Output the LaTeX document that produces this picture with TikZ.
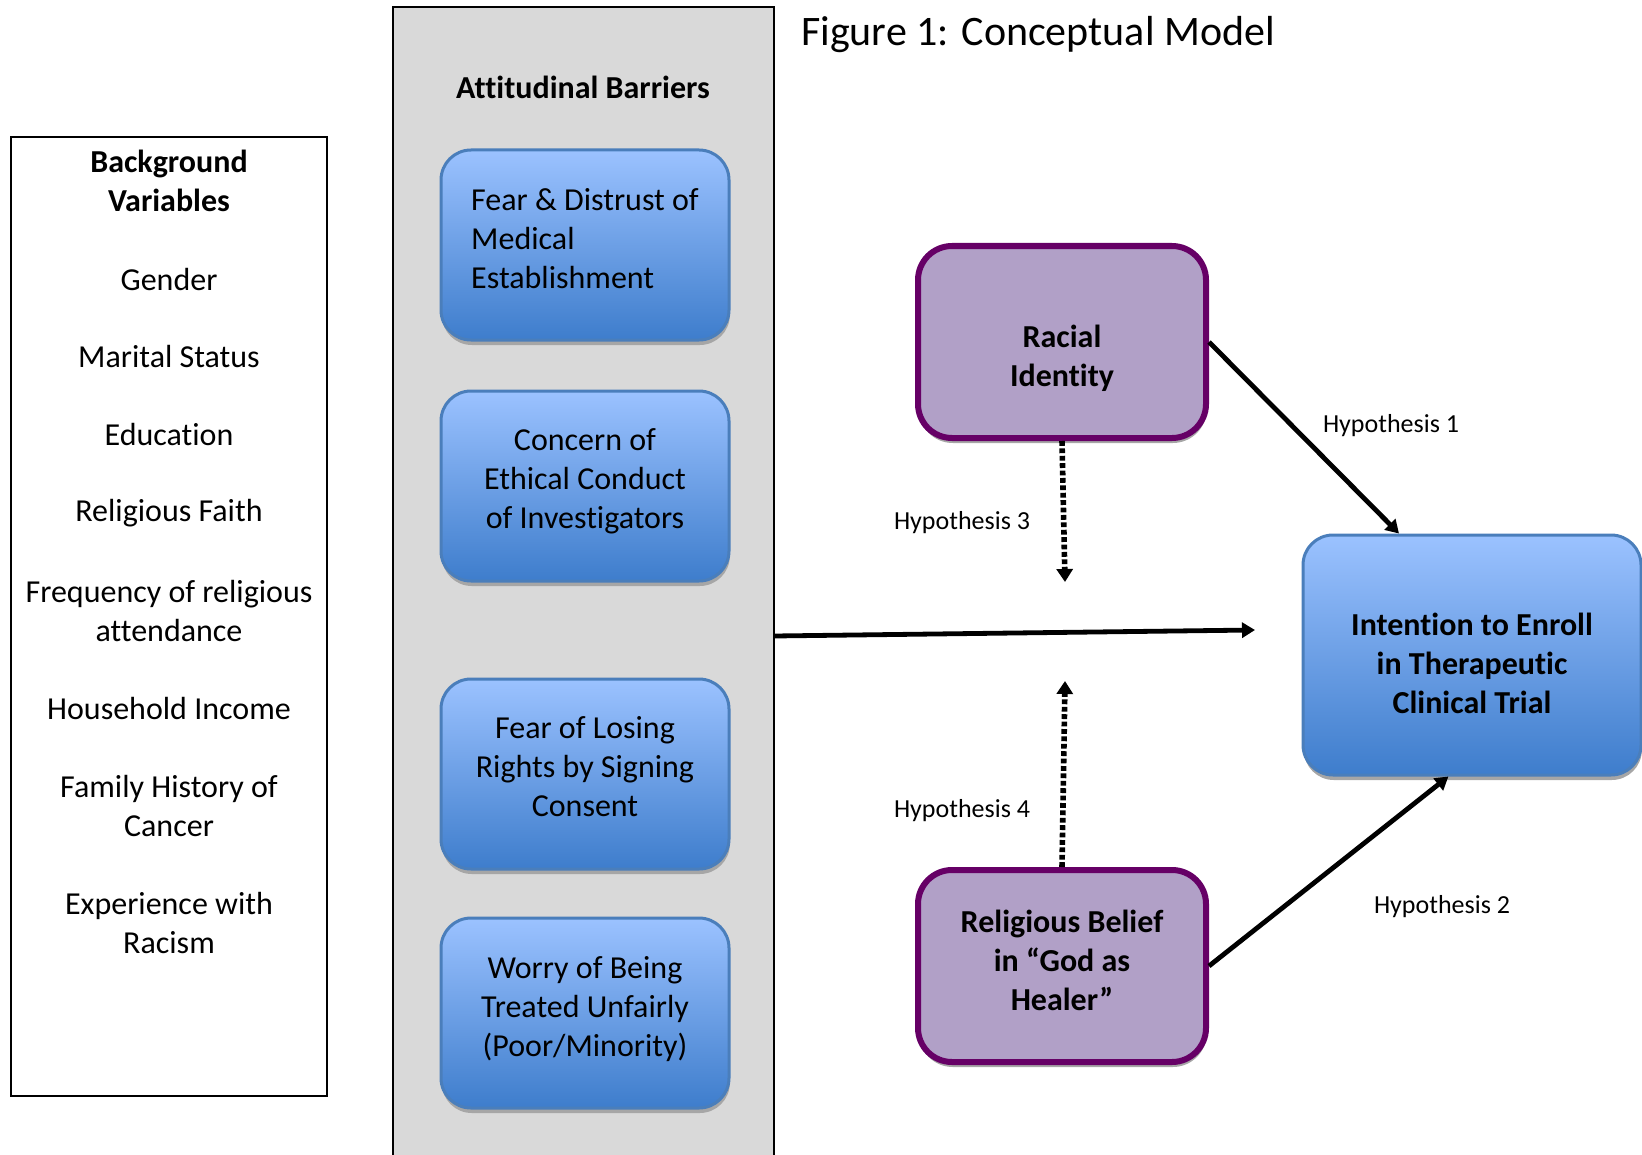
\documentclass[tikz,border=0pt]{standalone}
\usepackage{fontspec}
\setmainfont{Carlito}[Ligatures=CommonOff]
\usetikzlibrary{arrows.meta,shadows}

\definecolor{barrtop}{RGB}{155,194,255}
\definecolor{barrbot}{RGB}{62,125,204}
\definecolor{barredge}{RGB}{74,126,187}
\definecolor{idfill}{RGB}{177,160,199}
\definecolor{idedge}{RGB}{102,0,102}
\definecolor{panelgray}{RGB}{217,217,217}

% move the lines of a box up or down without changing the box
\newcommand{\nudge}[3][c]{\raisebox{#2}[\height][\depth]{\begin{tabular}{@{}#1@{}}#3\end{tabular}}}

\begin{document}
\begin{tikzpicture}[x=0.5pt, y=-0.5pt, font=\fontsize{16}{19.5}\selectfont,
  boxshadow/.style={drop shadow={shadow xshift=0.4pt, shadow yshift=-2.5pt, fill=black!35, opacity=1}},
  barrier/.style={rectangle, rounded corners=15pt, draw=barredge, line width=1.5pt, top color=barrtop, bottom color=barrbot, minimum width=144pt, minimum height=95pt, boxshadow},
  factor/.style={rectangle, rounded corners=17pt, draw=idedge, line width=3pt, fill=idfill, minimum width=144pt, minimum height=96pt, font=\fontsize{16}{19.5}\selectfont\bfseries, boxshadow},
  hyp/.style={font=\fontsize{13}{16}\selectfont},
  solidarrow/.style={line width=2.4pt, -{Triangle[length=6.5pt,width=7.5pt]}},
  dotarrow/.style={line width=2.8pt, dash pattern=on 2.4pt off 1.3pt, -{Triangle[length=6.5pt,width=8pt]}}]
\useasboundingbox (0,0) rectangle (1642,1155);

% title
\node (title) at (1038,35) {\fontsize{21}{25}\selectfont Figure 1: Conceptual Model};

% background variables
\node[draw, line width=1pt, minimum width=158pt, minimum height=479.5pt] (bgbox) at (169,616.5) {};
\node[align=center, font=\fontsize{16}{19.5}\selectfont\bfseries] (bghead) at (169,181) {Background\\Variables};
\node (bg1) at (169,279) {Gender};
\node (bg2) at (169,357) {Marital Status};
\node (bg3) at (169,435) {Education};
\node (bg4) at (169,513) {Religious Faith};
\node[align=center] (bg5) at (169,611) {Frequency of religious\\attendance};
\node (bg6) at (169,708) {Household Income};
\node[align=center] (bg7) at (169,805.5) {Family History of\\Cancer};
\node[align=center] (bg8) at (169,923) {Experience with\\Racism};

% attitudinal barriers
\node[draw, line width=1pt, fill=panelgray, minimum width=190.5pt, minimum height=579pt] (panel) at (583.5,586) {};
\node[font=\fontsize{16}{19.5}\selectfont\bfseries] (panelhead) at (583,87) {Attitudinal Barriers};
\node[barrier] (bar1) at (585,245) {\nudge[l]{1.5pt}{Fear \& Distrust of\\Medical\\Establishment}};
\node[barrier] (bar2) at (585,486) {\nudge{2pt}{Concern of\\Ethical Conduct\\of Investigators}};
\node[barrier] (bar3) at (585,774) {\nudge{2pt}{Fear of Losing\\Rights by Signing\\Consent}};
\node[barrier] (bar4) at (585,1013) {\nudge{1.5pt}{Worry of Being\\Treated Unfairly\\(Poor/Minority)}};

% model
\node[factor] (racial) at (1062,342) {\nudge{-8.5pt}{Racial\\Identity}};
\node[factor] (belief) at (1062,966) {\nudge{1pt}{Religious Belief\\in “God as\\Healer”}};
\node[barrier, minimum width=169pt, minimum height=120pt, font=\fontsize{16}{19.5}\selectfont\bfseries] (enroll) at (1472,655) {\nudge{-6pt}{Intention to Enroll\\in Therapeutic\\Clinical Trial}};

\coordinate (barout) at (774,636);
\coordinate (meet) at (1255,630);
\coordinate (h3end) at (1065,582);
\coordinate (h4end) at (1065,681);

\draw[solidarrow] (barout) -- (meet);
\draw[solidarrow] (racial.east) -- (enroll.121);
\draw[solidarrow] (belief.east) -- (enroll.259);
\draw[dotarrow] (racial.south) -- (h3end);
\draw[dotarrow] (belief.north) -- (h4end);

\node[hyp] (hyp1) at (1391,426) {Hypothesis 1};
\node[hyp] (hyp2) at (1442,907) {Hypothesis 2};
\node[hyp] (hyp3) at (962,523) {Hypothesis 3};
\node[hyp] (hyp4) at (962,811) {Hypothesis 4};
\end{tikzpicture}
\end{document}
